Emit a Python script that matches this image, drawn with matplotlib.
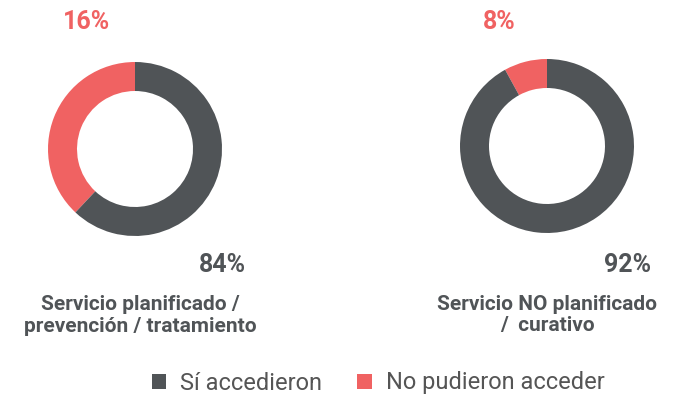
import matplotlib
matplotlib.use('Agg')
import matplotlib.pyplot as plt

# data
categories = ['Sí accedieron', 'No pudieron acceder']
titles = ['Servicio planificado /\nprevención / tratamiento',
          'Servicio NO planificado\n/  curativo']
si_labels = ['84%', '92%']
no_labels = ['16%', '8%']
# wedge shares as drawn in the reference (no pudieron, sí accedieron)
no_drawn = [38, 8]
si_drawn = [62, 92]

gray = '#505457'
red = '#F06262'
fonts = ['Liberation Sans Narrow', 'Roboto', 'DejaVu Sans']
plt.rcParams['font.family'] = fonts

W, H = 678, 401
fig = plt.figure(figsize=(W / 100, H / 100), dpi=100)

def px(x, y):
    return x / W, 1 - y / H

centers = [(135, 149), (547, 146)]
box = 90
wedges = None
for i, (cx, cy) in enumerate(centers):
    ax = fig.add_axes([(cx - box) / W, 1 - (cy + box) / H, 2 * box / W, 2 * box / H])
    wedges, _ = ax.pie([no_drawn[i], si_drawn[i]], colors=[red, gray],
                       startangle=90, counterclock=True, radius=87 / box,
                       wedgeprops=dict(width=29 / box, linewidth=0))
    ax.set_xlim(-1, 1)
    ax.set_ylim(-1, 1)
    ax.axis('off')

# percentage labels
for (x, y), t in zip([(87, 22), (499, 22)], no_labels):
    fig.text(*px(x, y), t, color=red, fontsize=18, fontweight='semibold',
             ha='center', va='center')
for (x, y), t in zip([(222, 265), (628, 265)], si_labels):
    fig.text(*px(x, y), t, color=gray, fontsize=18, fontweight='bold',
             ha='center', va='center')
for (x, y), t in zip([(140, 315), (547, 315)], titles):
    fig.text(*px(x, y), t, color=gray, fontsize=15, fontweight='bold',
             ha='center', va='center', linespacing=1.2)

fig.legend([wedges[1], wedges[0]], categories, loc='center',
           bbox_to_anchor=px(378, 383), ncol=2, frameon=False,
           fontsize=17, handlelength=0.6, handleheight=0.6,
           handletextpad=0.6, columnspacing=1.5, labelcolor='#555555')

fig.savefig('out.png', dpi=100)
